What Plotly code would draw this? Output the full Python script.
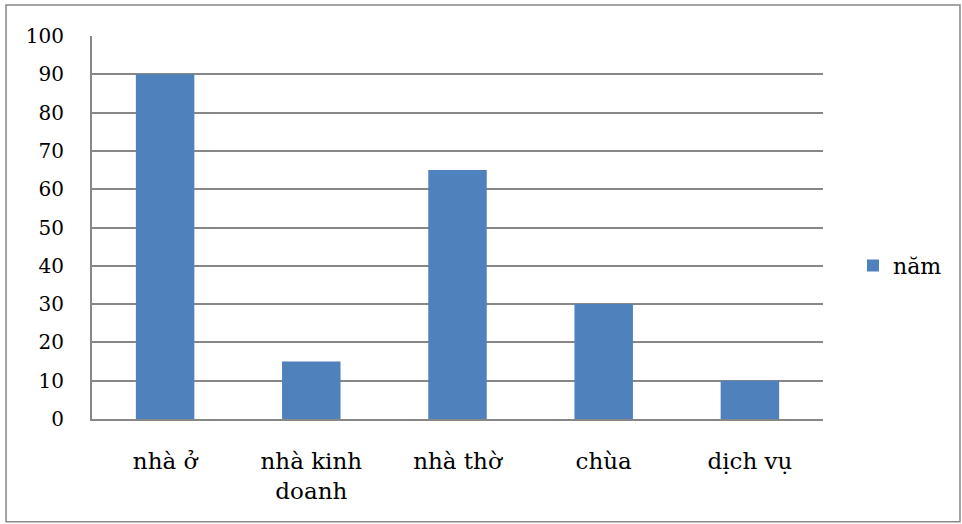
import plotly.graph_objects as go

categories = ["nhà ở", "nhà kinh<br>doanh", "nhà thờ", "chùa", "dịch vụ"]
values = [90, 15, 65, 30, 10]
series_name = "năm"
y_ticks = [0, 10, 20, 30, 40, 50, 60, 70, 80, 90, 100]

FONT = "DejaVu Serif"
GRID = "#878787"

fig = go.Figure()
fig.add_trace(go.Bar(x=categories, y=values, name=series_name,
                     marker=dict(color="#4F81BD", line=dict(width=0))))

fig.update_layout(
    width=962, height=524,
    margin=dict(l=92, r=139, t=36, b=105),
    paper_bgcolor="white", plot_bgcolor="white",
    font=dict(family=FONT, size=20, color="black"),
    bargap=0.6,
    showlegend=True,
    legend=dict(x=1.041, y=0.40, xanchor="left", yanchor="middle",
                font=dict(family=FONT, size=22), bgcolor="rgba(0,0,0,0)",
                itemwidth=30),
    xaxis=dict(showline=True, linecolor=GRID, linewidth=2, showgrid=False,
               ticks="", ticklabelstandoff=20, tickfont=dict(family=FONT, size=23)),
    yaxis=dict(range=[0, 100], tickvals=y_ticks, showline=True, linecolor=GRID,
               linewidth=2, showgrid=True, gridcolor=GRID, gridwidth=1.5,
               ticks="", ticklabelstandoff=22, zeroline=False,
               tickfont=dict(family=FONT, size=20)),
    shapes=[dict(type="rect", xref="paper", yref="paper",
                 x0=-0.1176, x1=1.1874, y0=-0.268, y1=1.081,
                 line=dict(color=GRID, width=1.5), fillcolor="rgba(0,0,0,0)",
                 layer="below")],
)

fig.write_html("out.html")
